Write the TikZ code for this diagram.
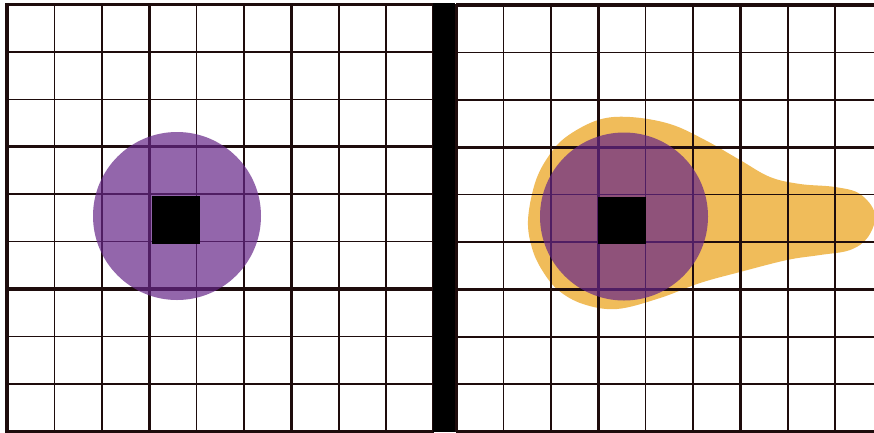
\documentclass[tikz,border=0pt]{standalone}
\usetikzlibrary{calc}
\definecolor{gridline}{RGB}{30,12,12}
\definecolor{blobpurple}{RGB}{102,38,136}
\definecolor{bloborange}{RGB}{240,188,90}
\tikzset{
  thinline/.style={draw=gridline, line width=1.6pt},
  thickline/.style={draw=gridline, line width=3.2pt},
  disc/.style={fill=blobpurple, fill opacity=0.7},
  cellblack/.style={fill=black}
}
\begin{document}
\begin{tikzpicture}[x=1pt,y=-1pt]
\useasboundingbox (0,0) rectangle (874,432);
\fill[white] (0,0) rectangle (874,432);
% orange blob (right panel)
\fill[bloborange] plot[smooth cycle, tension=0.6] coordinates {
 (528,220) (535,183) (548,157) (566,137) (598,120) (630,117) (670,124) (705,140)
 (740,160) (770,177) (800,184) (835,187) (860,194) (875,214) (868,237)
 (850,250) (820,255) (787,260) (740,272) (700,283) (660,298) (617,309)
 (583,304) (558,290) (542,270) (532,248)};
% left grid
\foreach \i in {0,...,9} {
  \draw[thinline] ({7+47.4*\i},4.5) -- ({7+47.4*\i},432);
  \draw[thinline] (7,{4.5+47.4*\i}) -- (433.6,{4.5+47.4*\i});
}
\foreach \i in {0,3,6,9} {
  \draw[thickline] ({7+47.4*\i},3) -- ({7+47.4*\i},432);
  \draw[thickline] (5.4,{4.5+47.4*\i}) -- (433.6,{4.5+47.4*\i});
}
% right grid
\foreach \i in {0,...,9} {
  \draw[thinline] ({456+47.4*\i},5) -- ({456+47.4*\i},432);
  \draw[thinline] (456,{5+47.4*\i}) -- (880,{5+47.4*\i});
}
\foreach \i in {0,3,6,9} {
  \draw[thickline] ({456+47.4*\i},4) -- ({456+47.4*\i},432);
  \draw[thickline] (456,{5+47.4*\i}) -- (880,{5+47.4*\i});
}
% purple discs
\fill[disc] (177,216) circle (84);
\fill[disc] (624,216.5) circle (84);
% black cells
\fill[cellblack] (152.2,196.1) rectangle (199.6,243.5);
\fill[cellblack] (598.2,196.6) rectangle (645.6,244.0);
% separator bar
\fill[black] (433,3) rectangle (455,432);
\end{tikzpicture}
\end{document}
